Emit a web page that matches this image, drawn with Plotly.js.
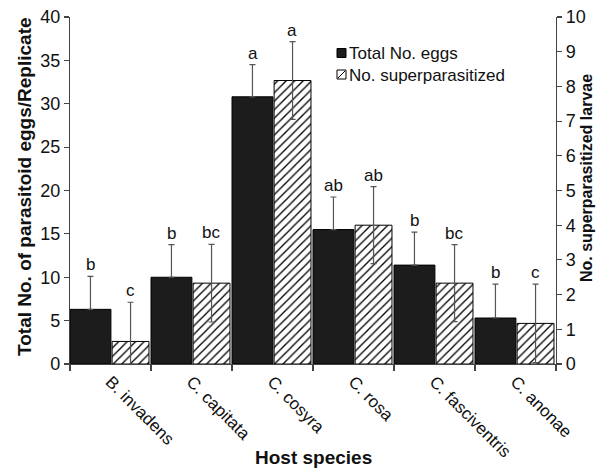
<!DOCTYPE html>
<html><head><meta charset="utf-8">
<script src="https://cdn.plot.ly/plotly-3.0.1.min.js"></script>
<style>html,body{margin:0;padding:0;background:#fff;}#chart{width:596px;height:468px;}</style>
</head><body><div id="chart"></div>
<script>
const categories = ["B. invadens", "C. capitata", "C. cosyra", "C. rosa", "C. fasciventris", "C. anonae"];
const totalEggs = [6.3, 10.0, 30.8, 15.5, 11.4, 5.3];
const totalEggsErr = [3.8, 3.75, 3.7, 3.75, 3.8, 3.9];
const superLarvae = [0.65, 2.33, 8.17, 4.0, 2.33, 1.17];
const superLarvaeErr = [1.13, 1.12, 1.12, 1.11, 1.11, 1.13];
const eggsLetters = ["b", "b", "a", "ab", "b", "b"];
const superLetters = ["c", "bc", "a", "ab", "bc", "c"];
const seriesNames = ["Total No. eggs", "No. superparasitized"];

const FONT = "Liberation Sans, Arial, Helvetica, sans-serif";
const idx = categories.map((c, i) => i);

// plot area in pixels: left 70, right 556, top 17, bottom 364
const PL = 70, PR = 556, PT = 17, PB = 364;
const px = x => (x - PL) / (PR - PL);
const py = y => (PB - y) / (PB - PT);

const traces = [
  {
    type: "bar", name: seriesNames[0], showlegend: false,
    x: idx, y: totalEggs,
    offset: -0.5, width: 0.505,
    marker: {color: "#1c1c1c", line: {color: "#000", width: 1}},
    error_y: {type: "data", array: totalEggsErr, arrayminus: totalEggs.map(() => 0), symmetric: false, color: "#555", thickness: 1.2, width: 3},
    xaxis: "x", yaxis: "y"
  },
  {
    type: "bar", name: seriesNames[1], showlegend: false,
    x: idx, y: superLarvae,
    offset: 0.02, width: 0.455,
    marker: {color: "#fff", line: {color: "#000", width: 1},
      pattern: {shape: "/", fgcolor: "#000", bgcolor: "#fff", size: 6, solidity: 0.22, fillmode: "replace"}},
    error_y: {type: "data", array: superLarvaeErr, color: "#555", thickness: 1.2, width: 3},
    xaxis: "x", yaxis: "y2"
  },
  {type: "scatter", x: [0], y: [0], xaxis: "x2", yaxis: "y", showlegend: false, hoverinfo: "skip", mode: "markers", marker: {opacity: 0}}
];

const annotations = [];
idx.forEach(i => {
  annotations.push({x: i - 0.245, y: totalEggs[i] + totalEggsErr[i], xref: "x", yref: "y",
    text: eggsLetters[i], showarrow: false, yanchor: "bottom", yshift: 0, font: {family: FONT, size: 17, color: "#111"}});
  annotations.push({x: i + 0.245, y: superLarvae[i] + superLarvaeErr[i], xref: "x", yref: "y2",
    text: superLetters[i], showarrow: false, yanchor: "bottom", yshift: 0, font: {family: FONT, size: 17, color: "#111"}});
});
// legend texts
annotations.push({xref: "paper", yref: "paper", x: px(347), y: py(53), xanchor: "left", yanchor: "middle",
  text: seriesNames[0], showarrow: false, font: {family: FONT, size: 17, color: "#111"}});
annotations.push({xref: "paper", yref: "paper", x: px(347), y: py(75), xanchor: "left", yanchor: "middle",
  text: seriesNames[1], showarrow: false, font: {family: FONT, size: 17, color: "#111"}});
// axis titles
annotations.push({xref: "paper", yref: "paper", x: px(24), y: py(187), xanchor: "center", yanchor: "middle", textangle: -90,
  text: "<b>Total No. of parasitoid eggs/Replicate</b>", showarrow: false, font: {family: FONT, size: 19, color: "#111"}});
annotations.push({xref: "paper", yref: "paper", x: px(586), y: py(178), xanchor: "center", yanchor: "middle", textangle: -90,
  text: "<b>No. superparasitized larvae</b>", showarrow: false, font: {family: FONT, size: 16, color: "#111"}});
annotations.push({xref: "paper", yref: "paper", x: px(313), y: py(457), xanchor: "center", yanchor: "middle",
  text: "<b>Host species</b>", showarrow: false, font: {family: FONT, size: 19, color: "#111"}});

const shapes = [
  {type: "rect", xref: "paper", yref: "paper", x0: px(337), x1: px(346), y0: py(57.5), y1: py(48.5),
    fillcolor: "#1c1c1c", line: {color: "#000", width: 1}},
  {type: "rect", xref: "paper", yref: "paper", x0: px(337), x1: px(346), y0: py(79), y1: py(70),
    fillcolor: "#fff", line: {color: "#000", width: 1}},
  {type: "line", xref: "paper", yref: "paper", x0: px(338), x1: px(345), y0: py(78), y1: py(71),
    line: {color: "#000", width: 1}}
];

const layout = {
  width: 596, height: 468,
  margin: {l: PL, r: 596 - PR, t: PT, b: 468 - PB},
  paper_bgcolor: "#fff", plot_bgcolor: "#fff",
  font: {family: FONT, size: 14, color: "#111"},
  showlegend: false,
  bargap: 0,
  xaxis: {
    type: "linear", range: [-0.5, 5.5],
    tickmode: "array", tickvals: idx, ticktext: categories,
    tickangle: 45, ticks: "", showline: true, linecolor: "#444", linewidth: 1.2,
    showgrid: false, zeroline: false, automargin: false,
    tickfont: {family: FONT, size: 17, color: "#111"}
  },
  xaxis2: {
    overlaying: "x", range: [-0.5, 5.5], tickmode: "array",
    tickvals: [-0.5, 0.5, 1.5, 2.5, 3.5, 4.5, 5.5], ticktext: ["", "", "", "", "", "", ""],
    ticks: "outside", ticklen: 6, tickcolor: "#444", tickwidth: 1.2, showline: false, showgrid: false, zeroline: false, side: "bottom"
  },
  yaxis: {
    range: [0, 40], dtick: 5, ticks: "outside", ticklen: 5, tickcolor: "#444", tickwidth: 1.2,
    showline: true, linecolor: "#444", linewidth: 1.2, showgrid: false, zeroline: false, automargin: false,
    tickfont: {family: FONT, size: 18, color: "#111"}
  },
  yaxis2: {
    overlaying: "y", side: "right", range: [0, 10], dtick: 1, ticks: "outside", ticklen: 5, tickcolor: "#444", tickwidth: 1.2,
    showline: true, linecolor: "#444", linewidth: 1.2, showgrid: false, zeroline: false, automargin: false,
    tickfont: {family: FONT, size: 18, color: "#111"}
  },
  annotations: annotations,
  shapes: shapes
};

Plotly.newPlot("chart", traces, layout, {displayModeBar: false, staticPlot: true});
</script>
</body></html>
